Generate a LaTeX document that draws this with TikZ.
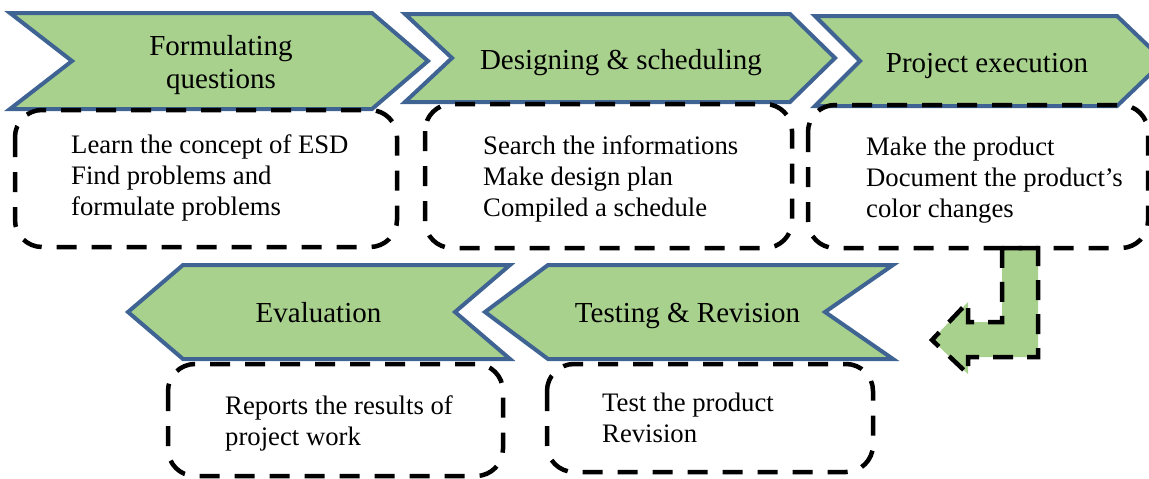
\documentclass[tikz,border=0pt]{standalone}
\usepackage{fontspec}
\setmainfont{Liberation Serif}
\definecolor{stagefill}{HTML}{A9D18E}
\definecolor{stageline}{HTML}{3F6493}
\begin{document}
\begin{tikzpicture}[x=1pt,y=-1pt,
  stage/.style={fill=stagefill,draw=stageline,line width=4pt,line join=miter},
  dashbox/.style={draw=black,line width=4.5pt,dash pattern=on 20pt off 15pt,rounded corners=27pt},
  bendarrow/.style={fill=stagefill,draw=black,line width=4.5pt,dash pattern=on 20pt off 14pt},
  headtext/.style={font=\fontsize{29}{33}\selectfont,align=center,inner sep=0pt},
  bodytext/.style={font=\fontsize{26.7}{31}\selectfont,align=left,inner sep=0pt,anchor=west}]
\useasboundingbox (0,0) rectangle (1149,479);
\clip (0,0) rectangle (1149,479);

% top row: stages pointing right
\draw[stage] (10,13) -- (372,13) -- (428,61) -- (372,109) -- (10,109) -- (72,61) -- cycle;
\draw[stage] (405,14) -- (790,14) -- (835,58) -- (790,102) -- (405,102) -- (452,58) -- cycle;
\draw[stage] (815,16) -- (1117,16) -- (1164,61) -- (1117,106) -- (815,106) -- (860,61) -- cycle;

% bottom row: stages pointing left
\draw[stage] (128,312) -- (183,265) -- (510,265) -- (455,312) -- (510,359) -- (183,359) -- cycle;
\draw[stage] (485,312) -- (548,265) -- (893,265) -- (825,312) -- (893,359) -- (548,359) -- cycle;

% stage titles
\node[headtext] (t1) at (221,65) {Formulating\\questions};
\node[headtext] (t2) at (621,63) {Designing \& scheduling};
\node[headtext] (t3) at (987,66) {Project execution};
\node[headtext] (t4) at (318.5,313) {Evaluation};
\node[headtext] (t5) at (687.5,316) {Testing \& Revision};

% bent arrow leading from the top row down to the bottom row
\draw[bendarrow] (1002,248) -- (1038,248) -- (1038,357) -- (968,357) -- (968,374)
  -- (932,340) -- (968,302) -- (968,322) -- (1002,322) -- cycle;

% activity boxes
\draw[dashbox] (15,110) rectangle (397,247);
\draw[dashbox] (425,104) rectangle (792,248);
\draw[dashbox] (808,105) rectangle (1148,248);
\draw[dashbox] (168,364) rectangle (503,476);
\draw[dashbox] (547,364) rectangle (873,472);

% activity texts
\node[bodytext] (a1) at (71,177.5) {Learn the concept of ESD\\Find problems and\\formulate problems};
\node[bodytext] (a2) at (483,179) {Search the informations\\Make design plan\\Compiled a schedule};
\node[bodytext] (a3) at (866,180) {Make the product\\Document the product’s\\color changes};
\node[bodytext] (a4) at (225,423) {Reports the results of\\project work};
\node[bodytext] (a5) at (602,418) {Test the product\\Revision};
\end{tikzpicture}
\end{document}
